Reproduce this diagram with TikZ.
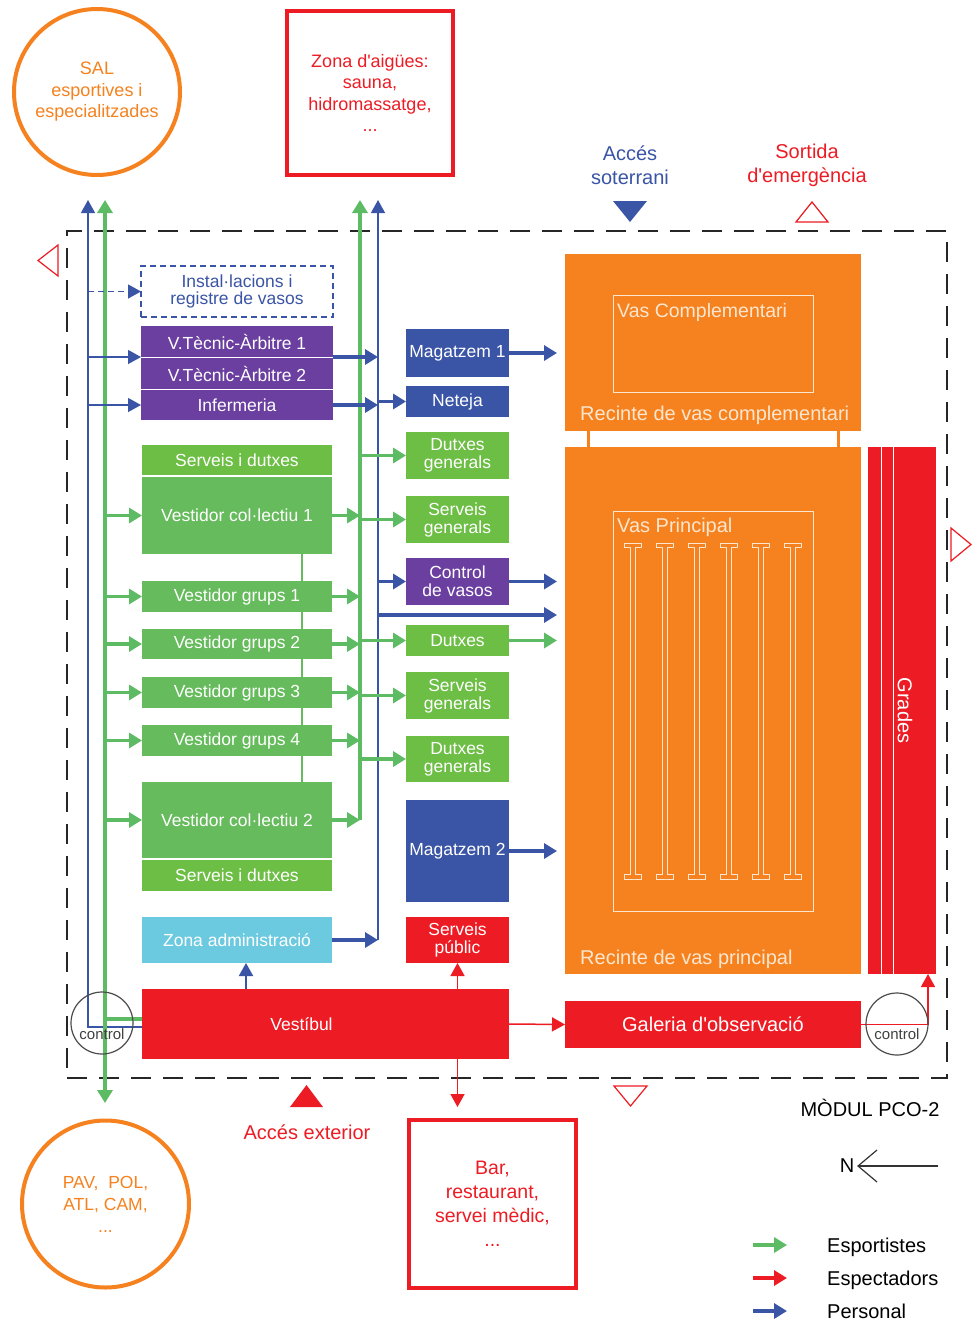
\documentclass[tikz,border=0pt]{standalone}
\usepackage{fontspec}
\setmainfont{Liberation Sans}[Ligatures=TeXOff]
\usetikzlibrary{arrows.meta,calc,backgrounds}
\definecolor{cOr}{HTML}{F5821F}
\definecolor{cRed}{HTML}{ED1C24}
\definecolor{cBlue}{HTML}{3A55A5}
\definecolor{cPur}{HTML}{6B3FA0}
\definecolor{cGrA}{HTML}{6DBE45}
\definecolor{cGrB}{HTML}{66BB5C}
\definecolor{cGrL}{HTML}{5DBB63}
\definecolor{cCy}{HTML}{6CCAE0}
\definecolor{cCream}{HTML}{FDE6CF}
\newcommand\bxx[6]{\node[bx,fill=#2,minimum width=#5pt,minimum height=#6pt] (#1) at (#3,#4)}
\begin{document}
\begin{tikzpicture}[x=1pt,y=-1pt,
  bx/.style={rectangle,anchor=north west,inner sep=0pt,outer sep=0pt,text=white,align=center,font=\fontsize{17.5}{18}\selectfont},
  tipg/.style={-{Triangle[length=13pt,width=15pt]}},
  tipb/.style={-{Triangle[length=13pt,width=14pt]}},
  ga/.style={draw=cGrL,line width=3.5pt,tipg},
  gbus/.style={draw=cGrL,line width=4pt},
  bt/.style={draw=cBlue,line width=1.3pt},
  bk/.style={draw=cBlue,line width=3.5pt,tipg},
  ra/.style={draw=cRed,line width=1.5pt,tipb},
  tri/.style={draw=cRed,line width=1.2pt},
  lab/.style={align=center,font=\fontsize{20}{24}\selectfont},
  ext/.style={align=center,font=\fontsize{18}{21.5}\selectfont,inner sep=0pt,outer sep=0pt},
  ctl/.style={circle,draw=black!70,line width=1.2pt,minimum size=62pt,inner sep=0pt},
  ctlt/.style={text=black!75,font=\fontsize{15}{15}\selectfont,inner sep=0pt},
  leg/.style={anchor=base west,inner sep=0pt,font=\fontsize{20}{20}\selectfont},
  pooltxt/.style={anchor=base west,inner sep=0pt,text=cCream,font=\fontsize{20}{20}\selectfont},
  innerpool/.style={draw=cCream,line width=1pt,anchor=north west,inner sep=0pt,outer sep=0pt}
]
\useasboundingbox (0,0) rectangle (973,1323);

% module frame
\node[draw=black!85,line width=2.5pt,dash pattern=on 20pt off 12pt,anchor=north west,
      minimum width=880pt,minimum height=847pt,inner sep=0pt,outer sep=0pt] (mod) at (67,231) {};

% outside elements
\node[circle,draw=cOr,line width=4pt,minimum size=166pt,text=cOr,ext] (sal) at (97,92)
  {SAL\\esportives i\\especialitzades};
\node[rectangle,draw=cRed,line width=4pt,anchor=north west,minimum width=166pt,minimum height=164pt,
      text=cRed,ext] (zona) at (287,11) {Zona d'aigües:\\sauna,\\hidromassatge,\\...};
\node[circle,draw=cOr,line width=4pt,minimum size=167pt,text=cOr,ext,font=\fontsize{17.5}{22}\selectfont]
  (pav) at (105.5,1204) {PAV,~ POL,\\ATL, CAM,\\...};
\node[rectangle,draw=cRed,line width=4pt,anchor=north west,minimum width=167pt,minimum height=168pt,
      text=cRed,ext,font=\fontsize{19.5}{24}\selectfont] (bar) at (409,1120)
  {Bar,\\restaurant,\\servei mèdic,\\...};

\node[lab,text=cBlue] (accS) at (630,165) {Accés\\soterrani};
\node[lab,text=cRed] (sort) at (807,165) {Sortida\\d'emergència};
\node[lab,text=cRed] (accE) at (307,1132) {Accés exterior};
\node[lab,text=black] (modT) at (870,1108) {MÒDUL PCO-2};

% access triangles
\fill[cBlue] (613,201) -- (647,201) -- (630,222) -- cycle;
\draw[tri] (796,222) -- (828,222) -- (812,202) -- cycle;
\draw[tri] (58,245) -- (58,276) -- (38,260.5) -- cycle;
\draw[tri] (951,528) -- (951,561) -- (971,544.5) -- cycle;
\fill[cRed] (290,1107) -- (323,1107) -- (306.5,1085) -- cycle;
\draw[tri] (614,1086) -- (647,1086) -- (630.5,1106) -- cycle;

% left column
\node[rectangle,anchor=north west,draw=cBlue,line width=1.5pt,dash pattern=on 6pt off 4pt,
      minimum width=192pt,minimum height=51pt,inner sep=0pt,outer sep=0pt,text=cBlue,align=center,
      font=\fontsize{17.5}{17}\selectfont] (inst) at (141,266) {Instal·lacions i\\registre de vasos};
\bxx{vt1}{cPur}{141}{326}{192}{31}{V.Tècnic-Àrbitre 1};
\bxx{vt2}{cPur}{141}{358}{192}{31}{V.Tècnic-Àrbitre 2};
\bxx{inf}{cPur}{141}{390}{192}{30}{Infermeria};
\bxx{sd1}{cGrA}{142}{445}{190}{30}{Serveis i dutxes};
\bxx{vc1}{cGrB}{142}{477}{190}{77}{Vestidor col·lectiu 1};
\bxx{vg1}{cGrB}{142}{581}{190}{31}{Vestidor grups 1};
\bxx{vg2}{cGrB}{142}{629}{190}{30}{Vestidor grups 2};
\bxx{vg3}{cGrB}{142}{677}{190}{31}{Vestidor grups 3};
\bxx{vg4}{cGrB}{142}{725}{190}{31}{Vestidor grups 4};
\bxx{vc2}{cGrB}{142}{782}{190}{76}{Vestidor col·lectiu 2};
\bxx{sd2}{cGrA}{142}{860}{190}{31}{Serveis i dutxes};
\bxx{adm}{cCy}{142}{917}{190}{46}{Zona administració};
\bxx{vest}{cRed}{142}{989}{367}{70}{};
\node[text=white,font=\fontsize{17.5}{18}\selectfont] (vestT) at ([xshift=-24pt]vest.center) {Vestíbul};

% middle column
\bxx{mg1}{cBlue}{406}{329}{103}{48}{Magatzem 1};
\bxx{net}{cBlue}{406}{386}{103}{31}{Neteja};
\bxx{dg1}{cGrA}{406}{432}{103}{47}{Dutxes\\generals};
\bxx{sg1}{cGrA}{406}{496}{103}{47}{Serveis\\generals};
\bxx{cv}{cPur}{406}{558}{103}{47}{Control\\de vasos};
\bxx{dx}{cGrA}{406}{625}{103}{31}{Dutxes};
\bxx{sg2}{cGrA}{406}{672}{103}{47}{Serveis\\generals};
\bxx{dg2}{cGrA}{406}{736}{103}{46}{Dutxes\\generals};
\bxx{mg2}{cBlue}{406}{800}{103}{102}{Magatzem 2};
\bxx{sp}{cRed}{406}{917}{103}{46}{Serveis\\públic};

% pools
\bxx{rc}{cOr}{565}{254}{296}{177}{};
\bxx{rp}{cOr}{565}{447}{296}{527}{};
\draw[cOr,line width=3pt] ([xshift=23pt]rc.south west) -- ([xshift=23pt]rp.north west);
\draw[cOr,line width=3pt] ([xshift=-23pt]rc.south east) -- ([xshift=-23pt]rp.north east);
\node[innerpool,minimum width=200pt,minimum height=97pt] (vcomp) at (613,295) {};
\node[innerpool,minimum width=200pt,minimum height=400pt] (vprin) at (613,511) {};
\node[pooltxt,font=\fontsize{19.5}{20}\selectfont] (vcompT) at (617,317) {Vas Complementari};
\node[pooltxt] (rcT) at (580,420) {Recinte de vas complementari};
\node[pooltxt] (vprinT) at (617,532) {Vas Principal};
\node[pooltxt] (rpT) at (580,964) {Recinte de vas principal};
\foreach \cx in {633,665,697,729,761,793}{
  \draw[cCream,line width=0.8pt] (\cx-8.5,543) -- ++(17,0) -- ++(0,4) -- ++(-6,0) -- (\cx+2.5,874)
    -- ++(6,0) -- ++(0,5) -- ++(-17,0) -- ++(0,-5) -- ++(6,0) -- (\cx-2.5,547) -- ++(-6,0) -- cycle;}

% stands and gallery
\bxx{gr}{cRed}{868}{447}{68}{527}{};
\draw[white,line width=1pt] ([xshift=13pt]gr.north west) -- ([xshift=13pt]gr.south west);
\draw[white,line width=1pt] ([xshift=25pt]gr.north west) -- ([xshift=25pt]gr.south west);
\node[rotate=-90,text=white,font=\fontsize{20}{20}\selectfont] (grT) at ([xshift=3pt]gr.center) {Grades};
\node[bx,fill=cRed,minimum width=296pt,minimum height=47pt,font=\fontsize{20}{20}\selectfont] (gal) at (565,1001) {Galeria d'observació};

% bus coordinates
\coordinate (bLt) at (88,200);
\coordinate (gLt) at (105,200);
\coordinate (gLb) at (105,1103);
\coordinate (gRt) at (360,200);
\coordinate (bRt) at (378,200);

% left buses
\draw[bt,tipb] ([yshift=-3pt]vest.west) -| (bLt);
\draw[gbus,{Triangle[length=13pt,width=15pt]}-{Triangle[length=13pt,width=15pt]}] (gLt) -- (gLb);
\draw[gbus] ([yshift=5pt]vest.west) -- ([yshift=5pt]vest.west -| gLt);
\draw[bt,dash pattern=on 6pt off 4pt,tipb] (bLt |- inst.west) -- (inst.west);
\draw[bt,tipb] (bLt |- vt1.south west) -- (vt1.south west);
\draw[bt,tipb] (bLt |- inf.west) -- (inf.west);
\foreach \n in {vc1,vg1,vg2,vg3,vg4,vc2}{
  \draw[ga] (gLt |- \n.west) -- (\n.west);
  \draw[ga] (\n.east) -- (\n.east -| gRt);}

% right buses
\draw[gbus,tipg] (vc2.east -| gRt) -- (gRt);
\draw[bt,tipb] (adm.east -| bRt) -- (bRt);
\draw[bk] (vt1.south east) -- (vt1.south east -| bRt);
\draw[bk] (inf.east) -- (inf.east -| bRt);
\draw[bk] (adm.east) -- (adm.east -| bRt);
\draw[bk] (bRt |- net.west) -- (net.west);
\draw[bk] (bRt |- cv.west) -- (cv.west);
\foreach \n in {dg1,sg1,dx,sg2,dg2}{
  \draw[ga] (gRt |- \n.west) -- (\n.west);}

% towards pools
\coordinate (mid) at ($(cv.south)!0.5!(dx.north)$);
\draw[bk,shorten >=8pt] (mg1.east) -- (mg1.east -| rc.west);
\draw[bk,shorten >=8pt] (cv.east) -- (cv.east -| rp.west);
\draw[bk,shorten >=8pt] (bRt |- mid) -- (mid -| rp.west);
\draw[ga,shorten >=8pt] (dx.east) -- (dx.east -| rp.west);
\draw[bk,shorten >=8pt] (mg2.east) -- (mg2.east -| rp.west);

% vestibule
\coordinate (admA) at ([xshift=9pt]adm.south);
\draw[bt,line width=2pt,tipb] (admA |- vest.north) -- (admA);
\draw[ra] (sp.south |- vest.north) -- (sp.south);
\draw[ra,shorten >=13pt] (sp.south |- vest.south) -- (sp.south |- bar.north);
\draw[ra] (vest.east) -- (gal.west);
\draw[ra] (gal.east) -| ([xshift=-8pt]gr.south east);

% control points
\node[ctl] (ctlL) at (102,1023) {};
\node[ctlt] (ctlLT) at (102,1034) {control};
\node[ctl] (ctlR) at (897,1024) {};
\node[ctlt] (ctlRT) at (897,1034) {control};

% north
\node[inner sep=0pt,font=\fontsize{20}{20}\selectfont] (nN) at (847,1166) {N};
\coordinate (nT) at (858,1166);
\coordinate (nE) at (938,1166);
\draw[black!80,line width=1.2pt] (nE) -- (nT);
\draw[black!80,line width=1.2pt] ($(nT)+(19,-16)$) -- (nT) -- ($(nT)+(19,16)$);

% legend
\coordinate (l1a) at (753,1245); \coordinate (l1b) at (787,1245);
\coordinate (l2a) at (753,1278); \coordinate (l2b) at (787,1278);
\coordinate (l3a) at (753,1311); \coordinate (l3b) at (787,1311);
\draw[ga] (l1a) -- (l1b);
\draw[draw=cRed,line width=3.5pt,tipg] (l2a) -- (l2b);
\draw[bk] (l3a) -- (l3b);
\node[leg] (lg1) at (827,1252) {Esportistes};
\node[leg] (lg2) at (827,1285) {Espectadors};
\node[leg] (lg3) at (827,1318) {Personal};

% background
\begin{scope}[on background layer]
\fill[white] (0,0) rectangle (973,1323);
\draw[cGrB,line width=1.5pt] ([xshift=-30pt]vc1.south east) -- ([xshift=-30pt]vc2.north east);
\end{scope}
\end{tikzpicture}
\end{document}
